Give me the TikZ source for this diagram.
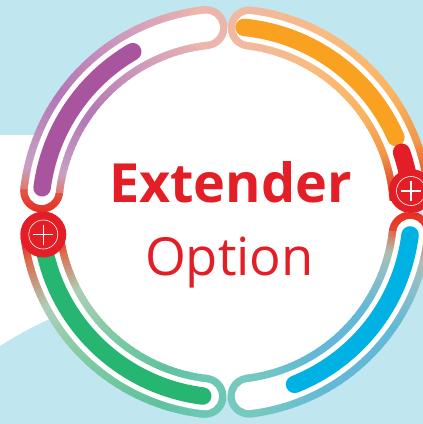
\documentclass[tikz,border=0pt]{standalone}
\usepackage{fontspec}
\setmainfont{Open Sans}
\definecolor{bgblue}{HTML}{C0E6EF}
\definecolor{brandred}{HTML}{E31E26}
\definecolor{purplebar}{HTML}{A8549F}
\definecolor{orangebar}{HTML}{FBA122}
\definecolor{greenbar}{HTML}{27B671}
\definecolor{bluebar}{HTML}{00B2E3}
% purple ring stops
\definecolor{pa}{HTML}{DE7B6E}\definecolor{pb}{HTML}{C9A1C4}\definecolor{pc}{HTML}{B276B5}
\definecolor{pd}{HTML}{CF9BBD}\definecolor{pe}{HTML}{EDB6AC}
% orange ring stops
\definecolor{oa}{HTML}{F1B9A0}\definecolor{ob}{HTML}{FABB80}\definecolor{oc}{HTML}{FBB45F}
\definecolor{od}{HTML}{F2964A}\definecolor{oe}{HTML}{E2552F}
% blue ring stops
\definecolor{ba}{HTML}{DD6A4A}\definecolor{bb}{HTML}{B0BDB0}\definecolor{bc}{HTML}{90BFC5}
\definecolor{bd}{HTML}{62B8D6}\definecolor{be}{HTML}{72C4C8}\definecolor{bf}{HTML}{76C9BE}
% green ring stops
\definecolor{ga}{HTML}{DD6A4A}\definecolor{gb}{HTML}{ACCFB8}\definecolor{gc}{HTML}{83CBA4}
\definecolor{gd}{HTML}{5FC29E}\definecolor{ge}{HTML}{6CC8B5}
\newcommand{\ringR}{185.5}
% one gradient piece of a ring: angle, colour, angle, colour
\newcommand{\ringseg}[4]{%
  \foreach \i in {1,...,12}{
    \pgfmathsetmacro{\sA}{#1+(\i-1)*(#3-#1)/12}
    \pgfmathsetmacro{\eA}{#1+\i*(#3-#1)/12+(#3-#1)/40}
    \pgfmathtruncatemacro{\pc}{100*(12-\i+0.5)/12}
    \draw[ringline, color={#2!\pc!#4}] plot[domain=\sA:\eA, samples=4] ({226+\ringR*cos(\x)},{212+\ringR*sin(\x)});
  }%
}
\newcommand{\ringpath}[2]{plot[domain=#1:#2, samples=40] ({226+\ringR*cos(\x)},{212+\ringR*sin(\x)})}
\tikzset{
  ringline/.style={line width=43},
  whitearc/.style={line width=28, white, line cap=round},
  bararc/.style={line width=17.5, line cap=round},
  redcap/.style={circle, inner sep=0pt, fill=brandred},
  plusring/.style={circle, inner sep=0pt, draw=white, line width=0.6},
  plusbar/.style={white, line width=1.6},
  title/.style={inner sep=0pt, text=brandred, anchor=base},
}
\begin{document}
\begin{tikzpicture}[x=1pt,y=-1pt]
\useasboundingbox (0,0) rectangle (423,424);
\fill[bgblue] (0,0) rectangle (423,424);
\fill[white] (0,135) -- (226,135) -- (226,300) .. controls (140,288) and (70,300) .. (0,346) -- cycle;
\coordinate (cen) at (226,212);
\fill[white] (cen) circle[radius=186];
% purple ring
\shade[top color=pa, bottom color=brandred!85!orange] ({226+\ringR*cos(186.5)},{212+\ringR*sin(186.5)}) circle[radius=21.5];
\ringseg{186.5}{pa}{193}{pb}
\ringseg{193}{pb}{215}{pc}
\ringseg{215}{pc}{240}{pd}
\ringseg{240}{pd}{263.8}{pe}
\fill[pe] ({226+\ringR*cos(263.8)},{212+\ringR*sin(263.8)}) circle[radius=21.5];
% orange ring
\fill[oa] ({226+\ringR*cos(277.2)},{212+\ringR*sin(277.2)}) circle[radius=21.5];
\ringseg{277.2}{oa}{300}{ob}
\ringseg{300}{ob}{325}{oc}
\ringseg{325}{oc}{340}{od}
\ringseg{340}{od}{350}{oe}
\ringseg{350}{oe}{356}{brandred}
% blue ring
\shade[top color=brandred!85!orange, bottom color=ba] ({226+\ringR*cos(6.5)},{212+\ringR*sin(6.5)}) circle[radius=21.5];
\ringseg{6.5}{ba}{14}{bb}
\ringseg{14}{bb}{20}{bc}
\ringseg{20}{bc}{35}{bd}
\ringseg{35}{bd}{60}{bd}
\ringseg{60}{bd}{75}{be}
\ringseg{75}{be}{82.9}{bf}
\fill[bf] ({226+\ringR*cos(82.9)},{212+\ringR*sin(82.9)}) circle[radius=21.5];
% green ring
\ringseg{173}{brandred}{166}{ga}
\ringseg{166}{ga}{152}{gb}
\ringseg{152}{gb}{135}{gc}
\ringseg{135}{gc}{110}{gd}
\ringseg{110}{gd}{96.5}{ge}
\fill[ge] ({226+\ringR*cos(96.5)},{212+\ringR*sin(96.5)}) circle[radius=21.5];
% white channels
\draw[whitearc] \ringpath{186.5}{263.8};
\draw[whitearc] \ringpath{277.2}{356};
\draw[whitearc] \ringpath{6.5}{82.9};
\draw[whitearc] \ringpath{96.5}{173};
% bars
\draw[bararc, purplebar] \ringpath{187.5}{239.8};
\draw[bararc, orangebar] \ringpath{275.6}{336.3};
\draw[bararc, brandred] \ringpath{341.2}{353.7};
\draw[bararc, bluebar] \ringpath{7.1}{68.3};
\draw[bararc, greenbar] \ringpath{97.2}{170};
% red buttons
\node[redcap, minimum size=46] (leftbtn) at (43.3,234.5) {};
\node[plusring, minimum size=29] (leftplus) at (leftbtn.center) {};
\draw[plusbar] ([xshift=-10]leftplus.center) -- ([xshift=10]leftplus.center);
\draw[plusbar] ([yshift=-10]leftplus.center) -- ([yshift=10]leftplus.center);
\node[redcap, minimum size=44] (rightbtn) at (411,191) {};
\node[plusring, minimum size=29] (rightplus) at (rightbtn.center) {};
\draw[plusbar] ([xshift=-10]rightplus.center) -- ([xshift=10]rightplus.center);
\draw[plusbar] ([yshift=-10]rightplus.center) -- ([yshift=10]rightplus.center);
% text
\node[title, font=\fontsize{54}{60}\selectfont\bfseries] (ext) at (230.5,202.5) {Extender};
\node[title, font=\fontsize{52.5}{60}\selectfont] (opt) at (229.5,275.5) {Option};
\end{tikzpicture}
\end{document}
